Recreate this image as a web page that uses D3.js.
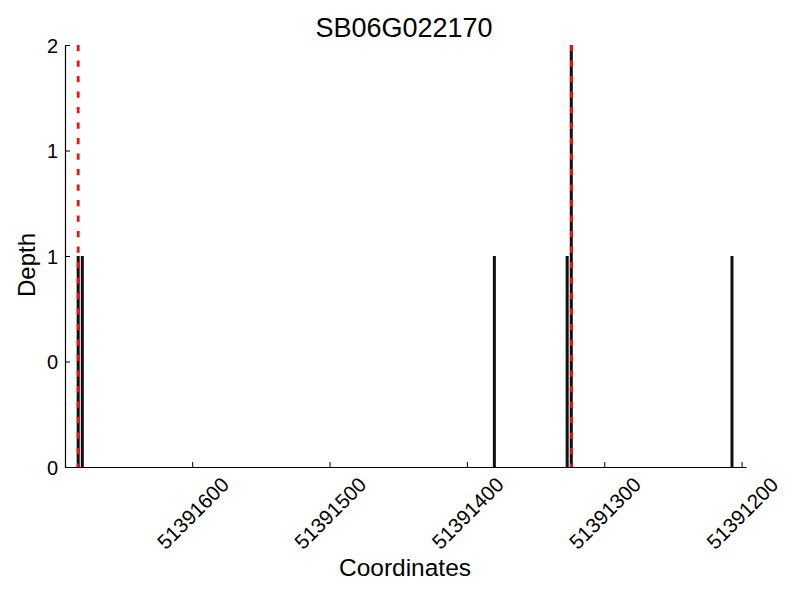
<!DOCTYPE html>
<html>
<head>
<meta charset="utf-8">
<script src="https://cdn.jsdelivr.net/npm/d3@7"></script>
<style>
  body { margin: 0; background: #fff; }
  text { font-family: "Liberation Sans", Arial, sans-serif; fill: #000; }
</style>
</head>
<body>
<svg id="chart" width="800" height="600"></svg>
<script>
// Data
const title = "SB06G022170";
const positions = [51391683, 51391680, 51391380, 51391327, 51391324, 51391207];
const depths = [1, 1, 1, 1, 2, 1];
const markers = [51391683, 51391324];
const xTicks = [51391600, 51391500, 51391400, 51391300, 51391200];
const yTicks = [0, 0.5, 1, 1.5, 2];
const xDomain = [51391692.6, 51391196.8];

const margin = { top: 45, right: 54, bottom: 133, left: 65 };
const width = 800, height = 600;

const svg = d3.select("#chart");

const x = d3.scaleLinear().domain(xDomain).range([margin.left, width - margin.right]);
const y = d3.scaleLinear().domain([0, 2]).range([height - margin.bottom, margin.top]);

// Bars
svg.append("g").selectAll("rect")
    .data(positions.map((p, i) => ({ p, d: depths[i] })))
    .enter().append("rect")
    .attr("x", d => x(d.p + 1.1))
    .attr("width", d => x(d.p - 1.1) - x(d.p + 1.1))
    .attr("y", d => y(d.d))
    .attr("height", d => y(0) - y(d.d))
    .attr("fill", "#111");

// Red dashed markers
svg.append("g").selectAll("line")
    .data(markers).enter().append("line")
    .attr("x1", d => x(d)).attr("x2", d => x(d))
    .attr("y1", y(2)).attr("y2", y(0))
    .attr("stroke", "#ee1111")
    .attr("stroke-width", 2.8)
    .attr("stroke-dasharray", "6.3,9.2");

// Axes (inward ticks)
const xAxis = svg.append("g")
    .attr("transform", `translate(0,${y(0)})`)
    .call(d3.axisTop(x).tickValues(xTicks).tickSize(5).tickSizeOuter(0).tickFormat(d3.format("d")));
xAxis.select(".domain").attr("stroke", "#000").attr("stroke-width", 1.2);
xAxis.selectAll(".tick line").attr("stroke", "#000");
xAxis.selectAll(".tick text")
    .attr("font-size", 20.5)
    .attr("text-anchor", "middle")
    .attr("dominant-baseline", "central")
    .attr("y", 0)
    .attr("transform", "translate(0,46) rotate(-45)");

const yAxis = svg.append("g")
    .attr("transform", `translate(${margin.left},0)`)
    .call(d3.axisRight(y).tickValues(yTicks).tickSize(5).tickSizeOuter(0).tickFormat(d => Math.floor(d)));
yAxis.select(".domain").attr("stroke", "#000").attr("stroke-width", 1.2);
yAxis.selectAll(".tick line").attr("stroke", "#000");
yAxis.selectAll(".tick text")
    .attr("font-size", 20)
    .attr("text-anchor", "end")
    .attr("x", -7)
    .attr("dy", "0.35em");

// Labels
svg.append("text")
    .attr("x", 404).attr("y", 37)
    .attr("text-anchor", "middle")
    .attr("font-size", 27)
    .text(title);

svg.append("text")
    .attr("x", 405).attr("y", 576)
    .attr("text-anchor", "middle")
    .attr("font-size", 24.5)
    .text("Coordinates");

svg.append("text")
    .attr("transform", "translate(35,265) rotate(-90)")
    .attr("text-anchor", "middle")
    .attr("font-size", 24)
    .text("Depth");
</script>
</body>
</html>
